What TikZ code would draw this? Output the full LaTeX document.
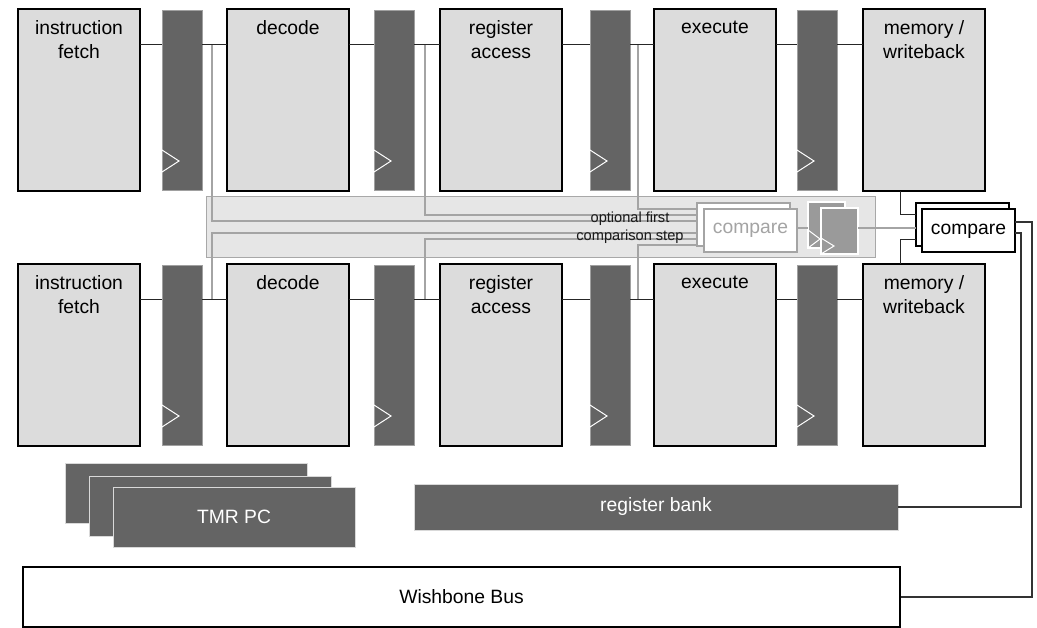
\documentclass[tikz,border=0pt]{standalone}
\usepackage{fontspec}
\setmainfont{Liberation Sans}
\usetikzlibrary{calc}
\definecolor{stagefill}{HTML}{DCDCDC}
\definecolor{regfill}{HTML}{646464}
\definecolor{regedge}{HTML}{A0A0A0}
\definecolor{bandfill}{HTML}{E6E6E6}
\definecolor{bandline}{HTML}{A8A8A8}
\definecolor{grayline}{HTML}{A4A4A4}
\definecolor{midreg}{HTML}{9A9A9A}
\begin{document}
\begin{tikzpicture}[x=1pt,y=-1pt,
  font=\fontsize{19.3}{24}\selectfont,
  stagebox/.style={draw=black, line width=2pt, fill=stagefill, minimum width=122pt, minimum height=182pt, inner sep=0pt, outer sep=0pt},
  regbox/.style={draw=regedge, line width=0.6pt, fill=regfill, minimum width=40pt, minimum height=180pt, inner sep=0pt, outer sep=0pt},
  stagelabel/.style={align=center, anchor=north, inner sep=0pt, yshift=-11.5pt},
  conn/.style={draw=black!85, line width=1pt},
  outconn/.style={draw=black!80, line width=1.3pt},
  tapline/.style={draw=grayline, line width=1.3pt},
  clk/.style={draw=white, line width=1pt},
  lcmp/.style={draw=grayline, line width=2pt, fill=white, minimum width=93pt, minimum height=43pt, inner sep=0pt, outer sep=0pt},
  mcmp/.style={draw=black, line width=2pt, fill=white, minimum width=93pt, minimum height=43pt, inner sep=0pt, outer sep=0pt},
  mreg/.style={draw=white, line width=1.5pt, fill=midreg, minimum width=37pt, minimum height=46pt, inner sep=0pt, outer sep=0pt},
  tmrbox/.style={draw=white!85!black, line width=0.8pt, fill=regfill, minimum width=242pt, minimum height=60pt, inner sep=0pt, outer sep=0pt},
]
\useasboundingbox (0,0) rectangle (1037,628);

% helper coordinates
\coordinate (yt) at (0,45);
\coordinate (yb) at (0,300);
\coordinate (t1a) at (212,45);
\coordinate (t2a) at (425,45);
\coordinate (t3a) at (638,45);
\coordinate (t1b) at (212,300);
\coordinate (t2b) at (425,300);
\coordinate (t3b) at (638,300);
\coordinate (h209) at (0,209);
\coordinate (h215) at (0,215);
\coordinate (h221) at (0,221);
\coordinate (h233) at (0,233);
\coordinate (h239) at (0,239);
\coordinate (h245) at (0,245);
\coordinate (h228) at (0,228);
\coordinate (h222) at (0,222);
\coordinate (h240) at (0,240);
\coordinate (mwx) at (900,0);
\coordinate (o1) at (1032,0);
\coordinate (o2) at (1021,0);

% comparison band
\node[draw=bandline, line width=1pt, fill=bandfill, minimum width=669pt, minimum height=61pt, inner sep=0pt] (band) at (540.5,227.5) {};

\node[lcmp] (lcb) at (743.5,224.5) {};

% tap lines
\draw[tapline] (t1a) |- (lcb.west |- h221);
\draw[tapline] (t2a) |- (lcb.west |- h215);
\draw[tapline] (t3a) |- (lcb.west |- h209);
\draw[tapline] (t1b) |- (lcb.west |- h233);
\draw[tapline] (t2b) |- (lcb.west |- h239);
\draw[tapline] (t3b) |- (lcb.west |- h245);

\node[font=\fontsize{14.6}{18}\selectfont, text=black!90, align=center, inner sep=0pt] (opt) at (630,228) {optional first\\comparison step};

\node[lcmp] (lcb2) at (743.5,224.5) {};
\node[lcmp, text=grayline] (lcf) at (750.5,230.5) {compare};

\node[mreg] (mrb) at (826.5,225) {};
\draw[tapline] (lcf.east |- h228) -- (mrb.west |- h228);
\node[mreg] (mrf) at (839.5,231) {};
\draw[clk] (mrb.west |- 0,230) -- ++(12,9) -- ++(-12,9);
\draw[clk] (mrf.west |- 0,238) -- ++(13,8) -- ++(-13,8);

\node[mcmp] (mcb) at (962.5,224.5) {};
\node[mcmp] (mcf) at (968.5,231) {compare};
\draw[tapline] (mrf.east |- h228) -- (mcb.west |- h228);

% pipelines
\foreach \r/\y in {1/100,2/355}{
  \node[stagebox, label={[stagelabel]north:instruction\\fetch}] (if\r) at (79,\y) {};
  \node[regbox] (ra\r) at (182,\y) {};
  \node[stagebox, label={[stagelabel]north:decode}] (de\r) at (288,\y) {};
  \node[regbox] (rb\r) at (394,\y) {};
  \node[stagebox, label={[stagelabel]north:register\\access}] (rg\r) at (501,\y) {};
  \node[regbox] (rc\r) at (610,\y) {};
  \node[stagebox, label={[stagelabel]north:execute}] (ex\r) at (715,\y) {};
  \node[regbox] (rd\r) at (817,\y) {};
  \node[stagebox, label={[stagelabel]north:memory /\\writeback}] (mw\r) at (924,\y) {};
  \foreach \q in {ra,rb,rc,rd}{
    \draw[clk] ($(\q\r.south west)+(0,-40)$) -- ++(17,11) -- ++(-17,11);
  }
}

\foreach \a/\b in {if1/ra1, ra1/de1, de1/rb1, rb1/rg1, rg1/rc1, rc1/ex1, ex1/rd1, rd1/mw1}{
  \draw[conn] (\a.east |- yt) -- (\b.west |- yt);
}
\foreach \a/\b in {if2/ra2, ra2/de2, de2/rb2, rb2/rg2, rg2/rc2, rc2/ex2, ex2/rd2, rd2/mw2}{
  \draw[conn] (\a.east |- yb) -- (\b.west |- yb);
}

% writeback to compare
\draw[conn] (mw1.south -| mwx) |- (mcb.west |- h215);
\draw[conn] (mw2.north -| mwx) |- (mcb.west |- h240);

% TMR PC
\node[tmrbox] (pc1) at (186,493.5) {};
\node[tmrbox] (pc2) at (210.5,506) {};
\node[tmrbox, text=white] (pc3) at (234,517) {TMR PC};

% register bank
\node[fill=regfill, draw=white!85!black, line width=0.6pt, text=white, minimum width=484pt, minimum height=46pt, inner sep=0pt] (rbank) at (656,507) {register bank};

% wishbone bus
\node[draw=black, line width=2pt, fill=white, minimum width=877pt, minimum height=60pt, inner sep=0pt] (wb) at (461.5,597) {Wishbone Bus};

% compare outputs
\draw[outconn] (mcf.east |- h222) -| (o1 |- wb.east) -- (wb.east);
\draw[outconn] (mcf.east |- h233) -| (o2 |- rbank.east) -- (rbank.east);
\end{tikzpicture}
\end{document}
